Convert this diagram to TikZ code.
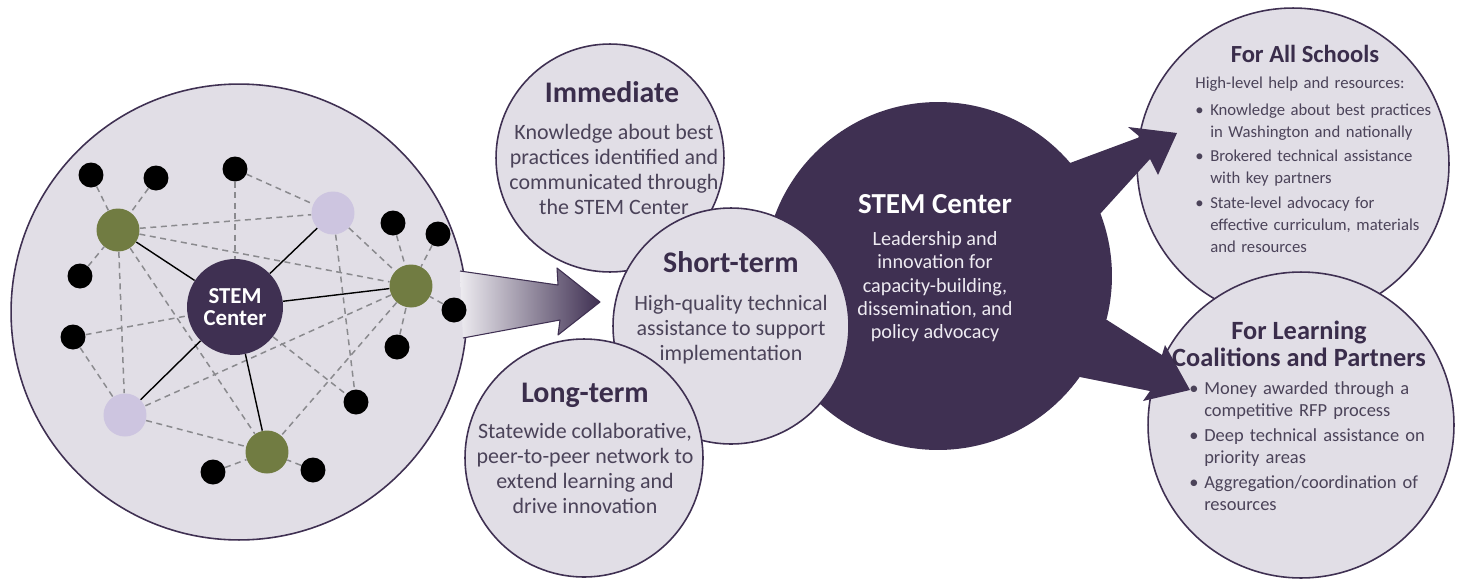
\documentclass[tikz,border=0pt]{standalone}
\usepackage{fontspec}
\setmainfont{Carlito}

\definecolor{plum}{HTML}{3F3052}
\definecolor{mist}{HTML}{E1DEE6}
\definecolor{leaf}{HTML}{717C42}
\definecolor{lilac}{HTML}{CDC5E0}
\definecolor{headink}{HTML}{3A2D4B}
\definecolor{bodyink}{HTML}{4B4359}
\definecolor{linkgray}{HTML}{8A8A8E}
\definecolor{paleink}{HTML}{EEEBF2}

% bullet line with hanging indent
\newcommand{\dotitem}[1]{\par\hangindent=8.5pt\hangafter=1\noindent\makebox[8.5pt][l]{\textbullet}#1}

\tikzset{
  bubble/.style={circle, draw=plum, fill=mist, line width=0.9pt, inner sep=0pt},
  hub/.style={circle, fill=plum, inner sep=0pt, minimum size=1.92cm, text=white, align=center, font=\fontsize{13}{12.5}\selectfont\bfseries},
  lead/.style={circle, fill=leaf, inner sep=0pt, minimum size=0.86cm},
  peer/.style={circle, fill=lilac, inner sep=0pt, minimum size=0.86cm},
  site/.style={circle, fill=black, inner sep=0pt, minimum size=0.5cm},
  link/.style={draw=linkgray, line width=0.85pt, dash pattern=on 3.4pt off 2.6pt},
  tie/.style={draw=black, line width=0.8pt},
  heading/.style={anchor=base, inner sep=0pt, text=headink, font=\fontsize{17}{20}\selectfont\bfseries},
  blurb/.style={anchor=north, inner sep=0pt, align=center, text=bodyink, font=\fontsize{12.5}{14.2}\selectfont},
  notes/.style={anchor=north west, inner sep=0pt, align=left, text=bodyink},
}

\begin{document}
\begin{tikzpicture}[x=0.02cm, y=-0.02cm]
\useasboundingbox (0,0) rectangle (1475,582);

% the network
\node[bubble, minimum size=9.12cm] (net) at (239,312) {};

% arrow leaving the network
\shade[left color=mist!60!white, right color=plum] (460,271) -- (558,285) -- (557,268) -- (600,302) -- (558,335) -- (560,320) -- (463,338) -- cycle;
\draw[plum, line width=0.6pt, line join=round] (460,271) -- (558,285) -- (557,268) -- (600,302) -- (558,335) -- (560,320) -- (463,338);

\node[hub] (hub) at (235,307) {STEM\\Center};
\node[lead] (g1) at (118,230) {};
\node[lead] (g2) at (411,286) {};
\node[lead] (g3) at (267,452) {};
\node[peer] (p1) at (333,213) {};
\node[peer] (p2) at (125,415) {};
\node[site] (s1) at (91,175) {};
\node[site] (s2) at (156,178) {};
\node[site] (s3) at (235,169) {};
\node[site] (s4) at (80,276) {};
\node[site] (s5) at (73,337) {};
\node[site] (s6) at (393,223) {};
\node[site] (s7) at (438,234) {};
\node[site] (s8) at (454,310) {};
\node[site] (s9) at (397,347) {};
\node[site] (s10) at (356,402) {};
\node[site] (s11) at (213,472) {};
\node[site] (s12) at (313,470) {};

\draw[link] (s1) -- (g1);
\draw[link] (s2) -- (g1);
\draw[link] (s4) -- (g1);
\draw[link] (g1) -- (p1);
\draw[link] (g1) -- (g2);
\draw[link] (g1) -- (p2);
\draw[link] (g1) -- (g3);
\draw[link] (s3) -- (p1);
\draw[link] (s3) -- (hub);
\draw[link] (p1) -- (g2);
\draw[link] (p1) -- (s10);
\draw[link] (s6) -- (g2);
\draw[link] (s7) -- (g2);
\draw[link] (s8) -- (g2);
\draw[link] (s9) -- (g2);
\draw[link] (g2) -- (p2);
\draw[link] (g2) -- (g3);
\draw[link] (s5) -- (hub);
\draw[link] (s5) -- (p2);
\draw[link] (p2) -- (g3);
\draw[link] (s11) -- (g3);
\draw[link] (s12) -- (g3);
\draw[link] (hub) -- (s10);

\draw[tie] (hub) -- (g1);
\draw[tie] (hub) -- (p1);
\draw[tie] (hub) -- (g2);
\draw[tie] (hub) -- (p2);
\draw[tie] (hub) -- (g3);

% outcomes
\node[bubble, minimum size=4.56cm] (imm) at (610,158) {};
\node[circle, fill=plum, inner sep=0pt, minimum size=6.96cm] (stem) at (938,276) {};
\node[bubble, minimum size=4.72cm] (short) at (731,326) {};
\node[bubble, minimum size=4.76cm] (long) at (584,458) {};

% who gets what
\node[bubble, minimum size=6.24cm] (all) at (1293,164) {};
\node[bubble, minimum size=6.12cm] (coal) at (1301,425) {};

\fill[plum] (1040,200) -- (1070,163) -- (1140,137) -- (1128,127) -- (1177,133) -- (1158,175) -- (1150,159) -- (1100,214) -- cycle;
\fill[plum] (1040,340) -- (1107,320) -- (1162,355) -- (1165,345) -- (1190,390) -- (1143,401) -- (1150,391) -- (1080,377) -- cycle;

% texts
\node[heading] (immhead) at (612,102) {Immediate};
\node[blurb] (immtext) at (614,124) {Knowledge about best\\practices identified and\\communicated through\\the STEM Center};
\node[heading] (shorthead) at (731,272) {Short-term};
\node[blurb] (shorttext) at (731,295) {High-quality technical\\assistance to support\\implementation};
\node[heading] (longhead) at (585,402) {Long-term};
\node[blurb] (longtext) at (585,423) {Statewide collaborative,\\peer-to-peer network to\\extend learning and\\drive innovation};

\node[heading, text=white, font=\fontsize{16.5}{20}\selectfont\bfseries] (stemhead) at (935,213) {STEM Center};
\node[blurb, text=paleink, font=\fontsize{11.5}{13.3}\selectfont] (stemtext) at (935,231) {Leadership and\\innovation for\\capacity-building,\\dissemination, and\\policy advocacy};

\node[heading, font=\fontsize{14}{17}\selectfont\bfseries] (allhead) at (1305,62) {For All Schools};
\node[notes, font=\fontsize{9.5}{12.5}\selectfont, text width=4.9cm] (alltext) at (1195,77) {\setlength{\parskip}{1.5pt}\noindent High-level help and resources:\vspace{1pt}
  \dotitem{Knowledge about best practices\newline in Washington and nationally}
  \dotitem{Brokered technical assistance\newline with key partners}
  \dotitem{State-level advocacy for\newline effective curriculum, materials\newline and resources}\par};

\node[heading, anchor=north, align=center, font=\fontsize{15}{15}\selectfont\bfseries] (coalhead) at (1299,321) {For Learning\\Coalitions and Partners};
\node[notes, font=\fontsize{10.5}{12.5}\selectfont, text width=5.3cm] (coaltext) at (1189,370) {\setlength{\parskip}{1.5pt}%
  \dotitem{Money awarded through a\newline competitive RFP process}
  \dotitem{Deep technical assistance on\newline priority areas}
  \dotitem{Aggregation/coordination of\newline resources}\par};
\end{tikzpicture}
\end{document}
